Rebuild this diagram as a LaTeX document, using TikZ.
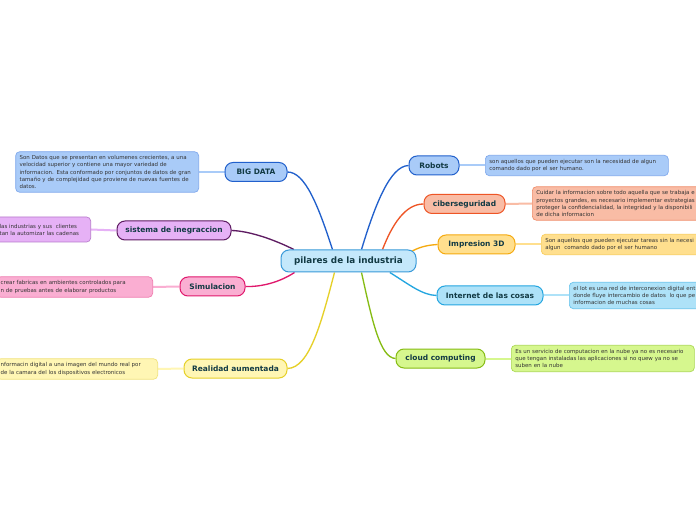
\documentclass[tikz,border=0pt]{standalone}
\usepackage{fontspec}
\setmainfont{DejaVu Sans}
\usetikzlibrary{backgrounds}
\definecolor{labtext}{HTML}{123A44}
\definecolor{desctext}{HTML}{333333}
\definecolor{cenfill}{HTML}{C4E8FB}\definecolor{cenline}{HTML}{3A9AD9}
\definecolor{bluefill}{HTML}{A9CBF8}\definecolor{blueline}{HTML}{2160CC}\definecolor{bluelight}{HTML}{7FA8EC}
\definecolor{violfill}{HTML}{E6B1F6}\definecolor{violline}{HTML}{5E1C62}\definecolor{violight}{HTML}{B87ACC}
\definecolor{pinkfill}{HTML}{FAAED2}\definecolor{pinkline}{HTML}{E0186C}\definecolor{pinklight}{HTML}{F07AAE}
\definecolor{yelfill}{HTML}{FFF6B4}\definecolor{yelline}{HTML}{E6D028}\definecolor{yellight}{HTML}{F0E27A}
\definecolor{orfill}{HTML}{F9BCA5}\definecolor{orline}{HTML}{EE5526}\definecolor{orlight}{HTML}{F08C68}
\definecolor{gofill}{HTML}{FFDF8E}\definecolor{goline}{HTML}{F5AA10}\definecolor{golight}{HTML}{F8CC5A}
\definecolor{cyfill}{HTML}{AEE2F8}\definecolor{cyline}{HTML}{24A6E0}\definecolor{cylight}{HTML}{66C2EC}
\definecolor{grfill}{HTML}{D6F78E}\definecolor{grline}{HTML}{86BC14}\definecolor{grlight}{HTML}{AAD852}
\begin{document}
\begin{tikzpicture}[x=0.75pt,y=-0.75pt,
  lab/.style={rounded corners=6pt, line width=0.75pt, inner sep=0pt,
    minimum height=14.25pt, text=labtext, font=\fontsize{5.6}{6.5}\selectfont\bfseries},
  desc/.style={rounded corners=3pt, line width=0.5pt, inner sep=3pt, align=left,
    text=desctext, font=\fontsize{4.1}{5.3}\selectfont},
  conn/.style={line width=1pt},
  dconn/.style={line width=1.5pt}]
\useasboundingbox (0,0) rectangle (696,520);
\clip (0,0) rectangle (696,520);
% central
\node[lab, draw=cenline, fill=cenfill, minimum width=101.25pt, minimum height=16.5pt,
  font=\fontsize{6.6}{7.5}\selectfont\bfseries] (c) at (348.5,261) {pilares de la industria};
% left labels
\node[lab, draw=blueline, fill=bluefill, minimum width=46.5pt] (bd) at (256,172) {BIG DATA};
\node[lab, draw=violline, fill=violfill, minimum width=85.5pt] (si) at (174,230.5) {sistema de inegraccion};
\node[lab, draw=pinkline, fill=pinkfill, minimum width=48.75pt] (sm) at (212.5,286.5) {Simulacion};
\node[lab, draw=yelline, fill=yelfill, minimum width=77.25pt] (ra) at (235.5,368.5) {Realidad aumentada};
% right labels
\node[lab, draw=blueline, fill=bluefill, minimum width=37.5pt] (ro) at (434,165.5) {Robots};
\node[lab, draw=orline, fill=orfill, minimum width=60.75pt] (cb) at (464.5,204) {ciberseguridad};
\node[lab, draw=goline, fill=gofill, minimum width=57.75pt] (im) at (476.5,244.5) {Impresion 3D};
\node[lab, draw=cyline, fill=cyfill, minimum width=79.5pt] (it) at (490,295.5) {Internet de las cosas};
\node[lab, draw=grline, fill=grfill, minimum width=66.75pt] (cc) at (440.5,358.5) {cloud computing};
% descriptions left
\node[desc, draw=bluelight, fill=bluefill, anchor=east, text width=131.25pt, minimum height=28.5pt] (dbd) at (199,172)
  {Son Datos que se presentan en volumenes crecientes, a una\\velocidad superior y contiene una mayor variedad de\\informacion. Esta conformado por conjuntos de datos de gran\\tamaño y de complejidad que proviene de nuevas fuentes de\\datos.};
\node[desc, draw=violight, fill=violfill, anchor=east, text width=65.25pt, minimum height=18.75pt] (dsi) at (91,229.5)
  {las industrias y sus\ \ clientes\\tan la automizar las cadenas};
\node[desc, draw=pinklight, fill=pinkfill, anchor=east, text width=111pt, minimum height=13.5pt] (dsm) at (153,287)
  {crear fabricas en ambientes controlados para\\n de pruebas antes de elaborar productos};
\node[desc, draw=yellight, fill=yelfill, anchor=east, text width=114.75pt, minimum height=13.5pt] (dra) at (158,369)
  {nformacin digital a una imagen del mundo real por\\de la camara del los dispositivos electronicos};
% descriptions right
\node[desc, draw=bluelight, fill=bluefill, anchor=west, text width=131.25pt, minimum height=14.25pt] (dro) at (485,165.5)
  {son aquellos que pueden ejecutar son la necesidad de algun\\comando dado por el ser humano.};
\node[desc, draw=orlight, fill=orfill, anchor=west, text width=140pt, minimum height=23.25pt] (dcb) at (532,203.5)
  {Cuidar la informacion sobre todo aquella que se trabaja e\\proyectos grandes, es necesario implementar estrategias\\proteger la confidencialidad, la integridad y la disponibili\\de dicha informacion};
\node[desc, draw=golight, fill=gofill, anchor=west, text width=140pt, minimum height=14.25pt] (dim) at (541,244.5)
  {Son aquellos que pueden ejecutar tareas sin la necesi\\algun\ \ comando dado por el ser humano};
\node[desc, draw=cylight, fill=cyfill, anchor=west, text width=120pt, minimum height=18.75pt] (dit) at (569,295.5)
  {el Iot es una red de interconexion digital ent\\donde fluye intercambio de datos\ \ lo que pe\\informacion de muchas cosas};
\node[desc, draw=grlight, fill=grfill, anchor=west, text width=131.25pt, minimum height=18.75pt] (dcc) at (511,358.5)
  {Es un servicio de computacion en la nube ya no es necesario\\que tengan instaladas las aplicaciones si no quew ya no se\\suben en la nube};
\begin{scope}[on background layer]
  \fill[white] (0,0) rectangle (696,520);
  \draw[conn, blueline] ([xshift=39pt]c.north west) .. controls (318,205) and (305,172) .. (bd.east);
  \draw[conn, violline] ([xshift=10pt]c.north west) .. controls (275,240) and (250,231) .. (si.east);
  \draw[conn, pinkline] ([xshift=10.5pt]c.south west) .. controls (280,282) and (262,287) .. (sm.east);
  \draw[conn, yelline] ([xshift=40.5pt]c.south west) .. controls (322,320) and (310,368) .. (ra.east);
  \draw[conn, blueline] ([xshift=60.75pt]c.north west) .. controls (375,205) and (390,166) .. (ro.west);
  \draw[conn, orline] ([xshift=76.5pt]c.north west) .. controls (392,225) and (405,204) .. (cb.west);
  \draw[conn, goline] ([xshift=-3pt,yshift=-1pt]c.north east) .. controls (422,246) and (430,245) .. (im.west);
  \draw[conn, cyline] ([xshift=82pt]c.south west) .. controls (410,285) and (422,295) .. (it.west);
  \draw[conn, grline] ([xshift=60.75pt]c.south west) .. controls (372,320) and (380,358) .. (cc.west);
  \draw[dconn, bluefill] (bd.west) -- (dbd.east);
  \draw[dconn, violfill] (si.west) -- (dsi.east);
  \draw[dconn, pinkfill] (sm.west) -- (dsm.east);
  \draw[dconn, yelfill] (ra.west) -- (dra.east);
  \draw[dconn, bluefill] (ro.east) -- (dro.west);
  \draw[dconn, orfill] (cb.east) -- (dcb.west);
  \draw[dconn, gofill] (im.east) -- (dim.west);
  \draw[dconn, cyfill] (it.east) -- (dit.west);
  \draw[dconn, grfill] (cc.east) -- (dcc.west);
\end{scope}
\end{tikzpicture}
\end{document}
